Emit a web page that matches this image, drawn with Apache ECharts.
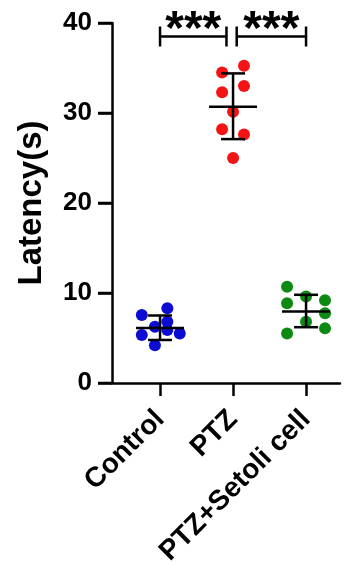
<!DOCTYPE html>
<html>
<head>
<meta charset="utf-8">
<script src="https://cdn.jsdelivr.net/npm/echarts@6/dist/echarts.min.js"></script>
<style>
html,body{margin:0;padding:0;background:#fff;}
#chart{width:346px;height:565px;}
</style>
</head>
<body>
<div id="chart"></div>
<script>
// ---- data ----
var categories = ['Control', 'PTZ', 'PTZ+Setoli cell'];
var controlValues = [7.56, 8.3, 6.26, 6.8, 5.33, 5.9, 5.5, 4.2];
var ptzValues = [35.26, 34.5, 33.0, 32.3, 30.15, 28.2, 27.6, 25.0];
var ptzSetoliValues = [10.7, 9.6, 9.2, 8.85, 7.74, 6.8, 6.07, 5.5];
// horizontal jitter offsets of the dots (in category units)
var controlOffsets = [-0.25, 0.1, -0.07, 0.1, -0.25, 0.1, 0.27, -0.07];
var ptzOffsets = [0.15, -0.15, 0.15, -0.15, 0.0, -0.15, 0.15, 0.0];
var ptzSetoliOffsets = [-0.26, 0.0, 0.26, -0.26, 0.26, 0.0, 0.26, -0.26];
// mean and error bar (lower, upper)
var means = [6.1, 30.7, 7.95];
var errLower = [4.78, 27.1, 6.2];
var errUpper = [7.5, 34.4, 9.8];
// significance brackets: [from x, to x, y], label
var brackets = [[1, 1.91, 38.5], [2.05, 3, 38.5]];
var bracketLabels = ['***', '***'];
var yTicks = [0, 10, 20, 30, 40];

var X_MIN = 0.342, X_MAX = 3.465;

function pts(vals, offs, catIndex) {
  return vals.map(function (v, i) { return [catIndex + 1 + offs[i], v]; });
}

var chart = echarts.init(document.getElementById('chart'), null, {renderer: 'canvas'});

var FONT = 'Liberation Sans, Arial, sans-serif';
var LINE = {stroke: '#000', lineWidth: 2.5, fill: null};

var option = {
  animation: false,
  backgroundColor: '#fff',
  grid: {left: 112, right: 6, top: 23, bottom: 182, containLabel: false, outerBoundsMode: 'none'},
  xAxis: {
    type: 'value',
    min: X_MIN,
    max: X_MAX,
    splitLine: {show: false},
    axisLine: {show: true, onZero: false, lineStyle: {color: '#000', width: 2.5}},
    axisTick: {show: true, customValues: [1, 2, 3], length: 13, lineStyle: {color: '#000', width: 2.5}},
    axisLabel: {
      show: true, customValues: [1, 2, 3], rotate: 45, margin: 32,
      color: '#000', fontFamily: FONT, fontWeight: 'bold', fontSize: 28,
      formatter: function (v) { return categories[Math.round(v) - 1] || ''; }
    }
  },
  yAxis: {
    type: 'value',
    min: yTicks[0],
    max: yTicks[yTicks.length - 1],
    interval: 10,
    name: 'Latency(s)',
    nameLocation: 'middle',
    nameGap: 64,
    nameTextStyle: {color: '#000', fontFamily: FONT, fontWeight: 'bold', fontSize: 33},
    splitLine: {show: false},
    axisLine: {show: true, onZero: false, lineStyle: {color: '#000', width: 2.5}},
    axisTick: {show: true, length: 14, lineStyle: {color: '#000', width: 2.5}},
    axisLabel: {color: '#000', fontFamily: FONT, fontWeight: 'bold', fontSize: 26, margin: 20}
  },
  series: [
    {type: 'scatter', symbolSize: 12, itemStyle: {color: '#0c0cd2', opacity: 1}, data: pts(controlValues, controlOffsets, 0), z: 2},
    {type: 'scatter', symbolSize: 12, itemStyle: {color: '#f51414', opacity: 1}, data: pts(ptzValues, ptzOffsets, 1), z: 2},
    {type: 'scatter', symbolSize: 12, itemStyle: {color: '#0d8a12', opacity: 1}, data: pts(ptzSetoliValues, ptzSetoliOffsets, 2), z: 2},
    {
      // y-axis tick marks, placed by the y scale
      type: 'custom', z: 5, silent: true, clip: false,
      data: yTicks.map(function (t) { return [X_MIN, t]; }),
      renderItem: function (params, api) {
        var p = api.coord([api.value(0), api.value(1)]);
        return {type: 'line', shape: {x1: p[0] - 14, y1: p[1], x2: p[0], y2: p[1]}, style: LINE};
      }
    },
    {
      type: 'custom', z: 5, clip: false,
      data: means.map(function (m, i) { return [i + 1, m, errLower[i], errUpper[i]]; }),
      renderItem: function (params, api) {
        var x = api.value(0);
        var pm = api.coord([x, api.value(1)]);
        var pl = api.coord([x, api.value(2)]);
        var pu = api.coord([x, api.value(3)]);
        return {type: 'group', children: [
          {type: 'line', shape: {x1: pm[0] - 24, y1: pm[1], x2: pm[0] + 24, y2: pm[1]}, style: LINE},
          {type: 'line', shape: {x1: pl[0], y1: pl[1], x2: pu[0], y2: pu[1]}, style: LINE},
          {type: 'line', shape: {x1: pl[0] - 12, y1: pl[1], x2: pl[0] + 12, y2: pl[1]}, style: LINE},
          {type: 'line', shape: {x1: pu[0] - 12, y1: pu[1], x2: pu[0] + 12, y2: pu[1]}, style: LINE}
        ]};
      }
    },
    {
      type: 'custom', z: 5, clip: false,
      data: brackets,
      renderItem: function (params, api) {
        var a = api.coord([api.value(0), api.value(2)]);
        var b = api.coord([api.value(1), api.value(2)]);
        return {type: 'group', children: [
          {type: 'line', shape: {x1: a[0], y1: a[1], x2: b[0], y2: b[1]}, style: LINE},
          {type: 'line', shape: {x1: a[0], y1: a[1] - 10, x2: a[0], y2: a[1] + 10}, style: LINE},
          {type: 'line', shape: {x1: b[0], y1: b[1] - 10, x2: b[0], y2: b[1] + 10}, style: LINE},
          {type: 'text', style: {
            text: bracketLabels[params.dataIndex],
            x: (a[0] + b[0]) / 2, y: a[1] + 18,
            align: 'center', verticalAlign: 'bottom',
            fill: '#000', font: 'bold 48px ' + FONT
          }}
        ]};
      }
    }
  ]
};
chart.setOption(option);
</script>
</body>
</html>
